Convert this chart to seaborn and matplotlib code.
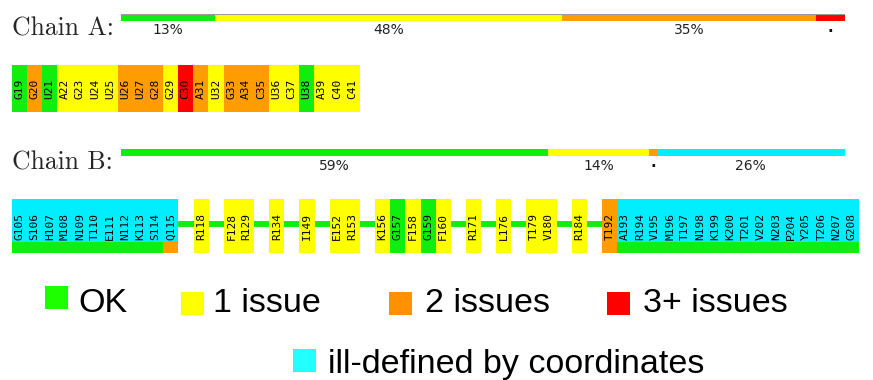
import matplotlib
matplotlib.use("Agg")
import matplotlib.pyplot as plt
from matplotlib.patches import Rectangle
import numpy as np
import pandas as pd
import seaborn as sns

sns.set_theme(style="white")

# ---- data -------------------------------------------------------------
categories = ["OK", "1 issue", "2 issues", "3+ issues", "ill-defined by coordinates"]

# share of residues per category, for each chain (percent)
chain_a_pct = [13, 48, 35, 4, 0]
chain_b_pct = [59, 14, 1, 0, 26]

chain_a_residues = ["G19", "G20", "U21", "A22", "G23", "U24", "U25", "U26", "U27",
                    "G28", "G29", "C30", "A31", "U32", "G33", "A34", "C35", "U36",
                    "C37", "U38", "A39", "C40", "C41"]
chain_a_issues = [0, 2, 0, 1, 1, 1, 1, 2, 2, 2, 1, 3, 2, 1, 2, 2, 2, 1, 1, 0, 1, 1, 1]
chain_a_illdef = [False] * 23

chain_b_residues = ["G105", "S106", "H107", "M108", "N109", "T110", "E111", "N112",
                    "K113", "S114", "Q115", "R118", "F128", "R129", "R134", "I149",
                    "E152", "R153", "K156", "G157", "F158", "G159", "F160", "R171",
                    "L176", "T179", "V180", "R184", "T192", "A193", "R194", "V195",
                    "M196", "T197", "N198", "K199", "K200", "T201", "V202", "N203",
                    "P204", "Y205", "T206", "N207", "G208"]
chain_b_issues = [0] * 10 + [2] + [1, 1, 1, 1, 1, 1, 1, 1, 0, 1, 0, 1, 1, 1, 1, 1, 1, 2] + [0] * 16
chain_b_illdef = [True] * 11 + [False] * 18 + [True] * 16

# ---- colours ------------------------------------------------------------
chart_colors = {"OK": "#10ee10", "1 issue": "#ffff00", "2 issues": "#ff9c00",
                "3+ issues": "#ff0000", "ill-defined by coordinates": "#00eeff"}
legend_colors = {"OK": "#1eff00", "1 issue": "#ffff00", "2 issues": "#ff9100",
                 "3+ issues": "#ff0000", "ill-defined by coordinates": "#22ffff"}
issue_cat = {0: "OK", 1: "1 issue", 2: "2 issues", 3: "3+ issues"}

W, H = 873, 380
fig = plt.figure(figsize=(W / 100, H / 100), dpi=100)


def px_axes(left, top, width, height):
    ax = fig.add_axes([left / W, 1 - (top + height) / H, width / W, height / H])
    ax.set_axis_off()
    return ax


page = px_axes(0, 0, W, H)
page.set_xlim(0, W)
page.set_ylim(H, 0)


def summary_bar(ax, pct, grey_top=False):
    left = 0
    for cat, p in zip(categories, pct):
        if p <= 0:
            continue
        ax.barh(0, p, left=left, height=1, color=chart_colors[cat], linewidth=0)
        if p >= 5:
            ax.annotate(f"{p}%", xy=(left + p / 2, 0), xycoords=("data", "axes fraction"),
                        xytext=(0, -9.8), textcoords="offset points",
                        ha="center", va="baseline", fontsize=10,
                        color="#222222", fontfamily="DejaVu Sans", annotation_clip=False)
        else:
            # too narrow for a percentage: mark it with a dot
            ax.annotate("\u00b7", xy=(left + p / 2, 0), xycoords=("data", "axes fraction"),
                        xytext=(0, -11), textcoords="offset points",
                        ha="center", va="baseline", fontsize=11, fontweight="bold",
                        color="#111111", fontfamily="DejaVu Sans", annotation_clip=False)
        left += p
    if grey_top:
        ax.plot([0, 100], [0.5, 0.5], color="#9a9a9a", lw=0.8)
    ax.set_xlim(0, 100)
    ax.set_ylim(-0.5, 0.5)


def residue_frame(names, issues, illdef):
    nums = [int(n[1:]) for n in names]
    slots, s = [], 0
    for i, n in enumerate(nums):
        if i > 0:
            s += 1 if n == nums[i - 1] + 1 else 2
        slots.append(s)
    return pd.DataFrame({
        "slot": slots, "name": names,
        "issue": [issue_cat[k] for k in issues],
        "top": [("ill-defined by coordinates" if d else issue_cat[k]) for k, d in zip(issues, illdef)],
        "ill": illdef,
    })


def residue_track(ax, df, strip=0.2):
    n_slots = df["slot"].max() + 1
    # backbone line joining the residue blocks
    ax.plot([df["slot"].min(), df["slot"].max()], [0.537, 0.537],
            color=chart_colors["OK"], lw=4.3, zorder=0.5, solid_capstyle="butt")
    df = df.assign(full=1.0, low=strip)
    sns.barplot(data=df, x="slot", y="full", hue="top", palette=chart_colors,
                native_scale=True, dodge=False, width=1, saturation=1,
                errorbar=None, legend=False, linewidth=0, ax=ax)
    ill = df[df["ill"]]
    if len(ill):
        sns.barplot(data=ill, x="slot", y="low", hue="issue", palette=chart_colors,
                    native_scale=True, dodge=False, width=1, saturation=1,
                    errorbar=None, legend=False, linewidth=0, ax=ax)
    for _, r in df.iterrows():
        ax.text(r["slot"], 0.5, r["name"], rotation=90, ha="center", va="center",
                fontsize=8, fontfamily="DejaVu Sans Mono", color="black", zorder=5)
    ax.set_xlim(-0.5, n_slots - 0.5)
    ax.set_ylim(0, 1)
    ax.set_axis_off()


# ---- Chain A ---------------------------------------------------------------
page.text(12, 35, "Chain A:", fontfamily="cmr10", fontsize=18.5, va="baseline", ha="left")
ax_a_sum = px_axes(120.5, 13.5, 724.5, 7)
summary_bar(ax_a_sum, chain_a_pct, grey_top=True)

df_a = residue_frame(chain_a_residues, chain_a_issues, chain_a_illdef)
ax_a = px_axes(11.7, 65, 15.13 * (df_a["slot"].max() + 1), 47)
residue_track(ax_a, df_a)

# ---- Chain B ---------------------------------------------------------------
page.text(12, 169, "Chain B:", fontfamily="cmr10", fontsize=18.5, va="baseline", ha="left")
ax_b_sum = px_axes(120.5, 149, 724.5, 7)
summary_bar(ax_b_sum, chain_b_pct)

df_b = residue_frame(chain_b_residues, chain_b_issues, chain_b_illdef)
ax_b = px_axes(12, 199, 15.13 * (df_b["slot"].max() + 1), 54)
residue_track(ax_b, df_b)

# ---- key -----------------------------------------------------------------------
key_boxes = [(45, 286), (181, 292), (389, 292), (607, 292), (293, 349)]
key_text = [(78, 312), (213, 312), (425, 312), (643, 312), (328, 373)]
for cat, (bx, by), (tx, ty) in zip(categories, key_boxes, key_text):
    page.add_patch(Rectangle((bx, by), 23, 23, facecolor=legend_colors[cat], linewidth=0))
    page.text(tx, ty, cat, fontfamily="Liberation Sans", fontsize=24.5,
              va="baseline", ha="left", color="black")

fig.savefig("out.png", dpi=100)
